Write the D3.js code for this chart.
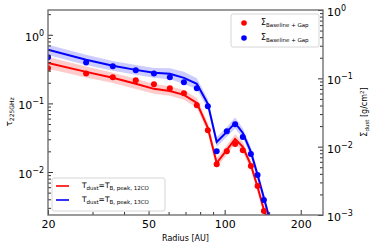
<!DOCTYPE html>
<html>
<head>
<meta charset="utf-8">
<script src="https://cdn.jsdelivr.net/npm/d3@7"></script>
<style>
  body { margin: 0; background: #fff; }
  svg text { font-family: "DejaVu Sans", sans-serif; }
</style>
</head>
<body>
<svg id="chart" width="374" height="247"></svg>
<script>
// radii of the sampled points [AU]
const radiusDots = [20, 28.3, 36.1, 44.5, 52.5, 60.7, 69, 77.6, 85.8, 93, 102, 110, 118, 127, 135, 143];
const sigmaRed = [0.140, 0.118, 0.1035, 0.0935, 0.0817, 0.0714, 0.0604, 0.0403, 0.0174, 0.00555, 0.0086, 0.0109, 0.0089, 0.0052, 0.00265, 0.00114];
const sigmaBlue = [0.203, 0.171, 0.150, 0.131, 0.118, 0.1035, 0.0874, 0.0714, 0.039, 0.0086, 0.0168, 0.0213, 0.0138, 0.0078, 0.00384, 0.00166];

// optical depth model curves
const radiusLine = [20, 28.3, 36.1, 44.5, 52.5, 60.7, 69, 77.6, 85.8, 93, 102, 110, 118, 127, 135, 143, 151];
const tauRed = [0.390, 0.288, 0.236, 0.193, 0.163, 0.152, 0.133, 0.1017, 0.0439, 0.0135, 0.0210, 0.0303, 0.0232, 0.01265, 0.00604, 0.00279, 0.00168];
const tauBlue = [0.604, 0.432, 0.353, 0.308, 0.279, 0.270, 0.236, 0.193, 0.0984, 0.0274, 0.0384, 0.0519, 0.0371, 0.0196, 0.00904, 0.00417, 0.00199];
// uncertainty of the curves (dex)
const errRed = [0.085, 0.08, 0.075, 0.075, 0.07, 0.07, 0.07, 0.07, 0.07, 0.07, 0.07, 0.07, 0.07, 0.07, 0.07, 0.07, 0.07];
const errBlue = [0.075, 0.075, 0.07, 0.07, 0.07, 0.08, 0.09, 0.08, 0.07, 0.07, 0.07, 0.08, 0.07, 0.07, 0.07, 0.07, 0.07];

const xMajor = [20, 50, 100, 200];
const xMinor = [30, 40, 60, 70, 80, 90, 150];
const yLeftExp = [-2, -1, 0];
const yRightExp = [-3, -2, -1, 0];

const width = 374, height = 247;
const margin = {top: 10, right: 51, bottom: 32, left: 48};
const svg = d3.select('#chart');

const x = d3.scaleLog().domain([20, 245]).range([margin.left, width - margin.right]);
const yL = d3.scaleLog().domain([0.00236, 2.3]).range([height - margin.bottom, margin.top]);
const yR = d3.scaleLog().domain([0.001, 1.0]).range([height - margin.bottom, margin.top]);

function minorLog(scale) {
  const [a, b] = scale.domain();
  const out = [];
  for (let e = Math.floor(Math.log10(a)); e <= Math.ceil(Math.log10(b)); e++) {
    for (let m = 2; m <= 9; m++) {
      const v = m * Math.pow(10, e);
      if (v >= a && v <= b) out.push(v);
    }
  }
  return out;
}

function powLabel(sel) {
  sel.each(function(d) {
    const t = d3.select(this);
    const e = Math.round(Math.log10(d));
    t.text('10');
    t.append('tspan').attr('dy', -5).attr('font-size', 8).text(e < 0 ? '\u2212' + (-e) : e);
  });
}

svg.append('defs').append('clipPath').attr('id', 'clip')
  .append('rect')
  .attr('x', margin.left).attr('y', margin.top)
  .attr('width', width - margin.left - margin.right)
  .attr('height', height - margin.top - margin.bottom);

const plot = svg.append('g').attr('clip-path', 'url(#clip)');

// bands
const bands = [
  {tau: tauRed, err: errRed, color: '#ff0000'},
  {tau: tauBlue, err: errBlue, color: '#0000ff'}
];
bands.forEach(s => {
  const pts = radiusLine.map((r, i) => ({r: r, v: s.tau[i], e: s.err[i]}));
  plot.append('path')
    .datum(pts)
    .attr('fill', s.color)
    .attr('fill-opacity', 0.2)
    .attr('d', d3.area()
      .x(d => x(d.r))
      .y0(d => yL(d.v * Math.pow(10, -d.e)))
      .y1(d => yL(d.v * Math.pow(10, d.e))));
});
bands.forEach(s => {
  const pts = radiusLine.map((r, i) => ({r: r, v: s.tau[i]}));
  plot.append('path')
    .datum(pts)
    .attr('fill', 'none')
    .attr('stroke', s.color)
    .attr('stroke-width', 2)
    .attr('d', d3.line().x(d => x(d.r)).y(d => yL(d.v)));
});

// dots
[[sigmaRed, '#ff0000'], [sigmaBlue, '#0000ff']].forEach(([vals, col]) => {
  plot.selectAll(null)
    .data(radiusDots.map((r, i) => ({r: r, v: vals[i]})))
    .join('circle')
    .attr('cx', d => x(d.r))
    .attr('cy', d => yR(d.v))
    .attr('r', 3)
    .attr('fill', col);
});

// axes
const bottomY = height - margin.bottom;
const gx = svg.append('g').attr('transform', `translate(0,${bottomY})`);
gx.call(d3.axisBottom(x).tickValues(xMinor).tickSize(-3).tickFormat(''));
const gx2 = svg.append('g').attr('transform', `translate(0,${bottomY})`);
gx2.call(d3.axisBottom(x).tickValues(xMajor).tickSize(-5).tickPadding(5).tickFormat(d3.format('d')));
gx2.selectAll('text').attr('font-size', 11).attr('fill', '#000');

const gl = svg.append('g').attr('transform', `translate(${margin.left},0)`);
gl.call(d3.axisLeft(yL).tickValues(minorLog(yL)).tickSize(-3).tickFormat(''));
const gl2 = svg.append('g').attr('transform', `translate(${margin.left},0)`);
gl2.call(d3.axisLeft(yL).tickValues(yLeftExp.map(e => Math.pow(10, e))).tickSize(-5).tickPadding(4));
gl2.selectAll('text').attr('font-size', 11).attr('fill', '#000').attr('dy', '0.5em').call(powLabel);

const rightX = width - margin.right;
const gr = svg.append('g').attr('transform', `translate(${rightX},0)`);
gr.call(d3.axisRight(yR).tickValues(minorLog(yR)).tickSize(-3).tickFormat(''));
const gr2 = svg.append('g').attr('transform', `translate(${rightX},0)`);
gr2.call(d3.axisRight(yR).tickValues(yRightExp.map(e => Math.pow(10, e))).tickSize(-5).tickPadding(4));
gr2.selectAll('text').attr('font-size', 11).attr('fill', '#000').attr('dy', '0.5em').call(powLabel);

svg.selectAll('.domain').remove();
svg.selectAll('.tick line').attr('stroke', '#333');

// frame
svg.append('rect')
  .attr('x', margin.left).attr('y', margin.top)
  .attr('width', width - margin.left - margin.right)
  .attr('height', height - margin.top - margin.bottom)
  .attr('fill', 'none')
  .attr('stroke', '#666')
  .attr('stroke-width', 1.3);

// axis labels
svg.append('text')
  .attr('x', (margin.left + rightX) / 2).attr('y', 241)
  .attr('text-anchor', 'middle').attr('font-size', 8)
  .text('Radius [AU]');

const yl = svg.append('text')
  .attr('transform', 'translate(12,112) rotate(-90)')
  .attr('text-anchor', 'middle').attr('font-size', 9);
yl.append('tspan').text('\u03c4');
yl.append('tspan').attr('dy', 2).attr('font-size', 6).text('225GHz');

const yr = svg.append('text')
  .attr('transform', 'translate(367,112) rotate(-90)')
  .attr('text-anchor', 'middle').attr('font-size', 8);
yr.append('tspan').text('\u03a3');
yr.append('tspan').attr('dy', 2).attr('font-size', 5.5).text('dust');
yr.append('tspan').attr('dy', -2).text(' [g/cm');
yr.append('tspan').attr('dy', -3).attr('font-size', 5.5).text('2');
yr.append('tspan').attr('dy', 3).text(']');

// legend: dots
const lg1 = svg.append('g');
lg1.append('rect')
  .attr('x', 231).attr('y', 14).attr('width', 88).attr('height', 33)
  .attr('rx', 2).attr('fill', '#fff').attr('fill-opacity', 0.8)
  .attr('stroke', '#ccc').attr('stroke-width', 0.8);
[['#ff0000', 23], ['#0000ff', 38]].forEach(([col, yy]) => {
  lg1.append('circle').attr('cx', 244).attr('cy', yy).attr('r', 2.8).attr('fill', col);
  const t = lg1.append('text').attr('x', 261).attr('y', yy + 2).attr('font-size', 8);
  t.append('tspan').text('\u03a3');
  t.append('tspan').attr('dy', 2).attr('font-size', 5.5).text('Baseline + Gap');
});

// legend: lines
const lg2 = svg.append('g');
lg2.append('rect')
  .attr('x', 52).attr('y', 178).attr('width', 113).attr('height', 33)
  .attr('rx', 2).attr('fill', '#fff').attr('fill-opacity', 0.8)
  .attr('stroke', '#ccc').attr('stroke-width', 0.8);
[['#ff0000', 186, '12CO'], ['#0000ff', 200, '13CO']].forEach(([col, yy, lab]) => {
  lg2.append('line').attr('x1', 56).attr('x2', 69).attr('y1', yy).attr('y2', yy)
    .attr('stroke', col).attr('stroke-width', 1.6);
  const t = lg2.append('text').attr('x', 82).attr('y', yy + 2).attr('font-size', 7.5);
  t.append('tspan').text('T');
  t.append('tspan').attr('dy', 2).attr('font-size', 5.5).text('dust');
  t.append('tspan').attr('dy', -2).text('=T');
  t.append('tspan').attr('dy', 2).attr('font-size', 5.5).text('B, peak, ' + lab);
});
</script>
</body>
</html>
